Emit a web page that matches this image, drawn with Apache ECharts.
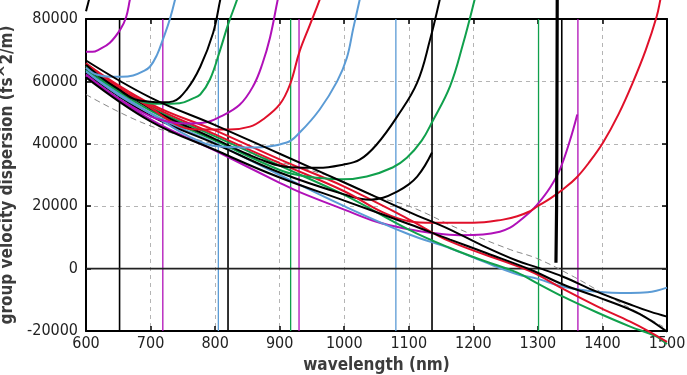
<!DOCTYPE html>
<html>
<head>
<meta charset="utf-8">
<script src="https://cdn.jsdelivr.net/npm/echarts@6/dist/echarts.min.js"></script>
<style>
  html, body { margin: 0; padding: 0; background: #fff; }
  #ec { width: 687px; height: 375px; }
</style>
</head>
<body>
<div id="ec"></div>
<script>
// wavelength (nm) vs GVD (fs^2/m)
const xTicks = [600, 700, 800, 900, 1000, 1100, 1200, 1300, 1400, 1500];
const yTicks = [-20000, 0, 20000, 40000, 60000, 80000];

// vertical marker wavelengths
const markerWl = [652, 719, 805, 820, 917, 930, 1080, 1136, 1301, 1337, 1362];

// curves that turn up (resonances)
const blackCorner = [[600, 82500], [607, 88000]];
const purpleU1 = [[600, 69500], [610, 69500], [620, 70200], [637, 72400], [653, 76600], [662, 80500], [668, 86200], [671, 89000]];
const blueU1 = [[600, 64400], [615, 62300], [637, 61500], [655, 61500], [673, 61900], [688, 63200], [699, 64700], [710, 68500], [719, 73400], [730, 80000], [740, 88000]];
const blackU1 = [[600, 65300], [625, 61000], [650, 57500], [675, 54300], [699, 53500], [720, 53300], [735, 53600], [756, 57400], [777, 64700], [797, 75600], [808, 86200], [811, 89000]];
const greenU1 = [[600, 64900], [650, 57000], [690, 53300], [715, 52800], [745, 53000], [765, 54500], [777, 55800], [792, 60600], [808, 70200], [820, 78200], [834, 86200], [837, 88500]];
const purpleU2 = [[600, 62200], [650, 54600], [700, 48800], [730, 47000], [756, 46500], [784, 46800], [808, 48700], [838, 52500], [859, 58500], [873, 65500], [885, 74000], [897, 86200], [900, 89000]];
const redU1 = [[600, 65800], [650, 58200], [700, 51500], [746, 45600], [777, 44600], [823, 44600], [854, 45500], [874, 47800], [900, 52600], [916, 59000], [931, 69700], [947, 78200], [962, 86200], [965, 88500]];
const blueU2 = [[600, 63200], [650, 55700], [700, 49700], [760, 42300], [808, 39100], [859, 38800], [911, 40400], [931, 43600], [962, 51000], [989, 60000], [1004, 67500], [1014, 77000], [1024, 86200], [1027, 89000]];
const blackU2 = [[600, 64200], [700, 51300], [800, 41500], [870, 35000], [916, 32500], [960, 32300], [998, 33300], [1024, 34900], [1050, 39700], [1082, 48700], [1113, 59600], [1133, 73400], [1148, 86200], [1150, 88500]];
const greenU2 = [[600, 63800], [700, 50600], [800, 41000], [900, 31600], [930, 29900], [962, 29000], [998, 28600], [1035, 29500], [1075, 32400], [1097, 35500], [1120, 41000], [1137, 47300], [1164, 58500], [1184, 72000], [1202, 86200], [1205, 89000]];
const blackU3 = [[600, 62600], [700, 49000], [800, 40000], [900, 30800], [1000, 23800], [1040, 22100], [1060, 22700], [1082, 24700], [1100, 27000], [1113, 29500], [1125, 33000], [1136, 37200]];
const redU3 = [[600, 64700], [700, 52200], [800, 43000], [900, 33800], [1000, 24800], [1060, 18000], [1100, 15200], [1137, 14700], [1200, 14700], [1246, 15700], [1268, 16800], [1287, 18300], [1299, 19900], [1320, 22600], [1340, 25600], [1360, 29200], [1380, 34200], [1401, 40400], [1425, 49500], [1447, 59600], [1467, 70000], [1484, 80800], [1490, 86500], [1492, 88500]];
const purpleU3 = [[600, 61800], [700, 47800], [800, 37800], [900, 27500], [931, 24500], [1000, 18900], [1050, 15000], [1102, 12500], [1133, 11500], [1179, 10700], [1215, 10900], [1241, 11800], [1257, 13100], [1268, 14700], [1287, 18000], [1299, 20500], [1319, 26000], [1334, 31700], [1350, 41300], [1361, 49400]];
const blackSpike = [[1328, 1900], [1329, 20000], [1329.5, 50000], [1330, 90000]];

// curves that run through the whole range
const blackA = [[600, 66700], [700, 54800], [800, 46000], [900, 36800], [1000, 27600], [1100, 18200], [1164, 12500], [1215, 7300], [1268, 2500], [1300, 300], [1339, -2600], [1391, -7400], [1443, -11500], [1474, -13800], [1500, -15400]];
const blackB = [[600, 61300], [700, 47200], [800, 38000], [900, 29200], [1000, 21800], [1100, 14300], [1164, 9300], [1220, 5000], [1288, -300], [1339, -5100], [1391, -9000], [1443, -13100], [1470, -16000], [1500, -20200]];
const redT = [[600, 65600], [700, 52800], [800, 44300], [900, 35000], [1000, 26300], [1100, 15800], [1164, 8700], [1268, 800], [1300, -2000], [1339, -6500], [1391, -12000], [1443, -17000], [1469, -19800], [1500, -23500]];
const greenT = [[600, 64400], [700, 51700], [800, 42400], [900, 33000], [1000, 23600], [1100, 12500], [1164, 6600], [1215, 2600], [1268, -1300], [1300, -4800], [1339, -9000], [1391, -14000], [1443, -18600], [1484, -21800], [1500, -24200]];
const blueT = [[600, 63600], [700, 49800], [800, 40200], [900, 30000], [1000, 20000], [1100, 11000], [1164, 6500], [1215, 2300], [1268, -1800], [1300, -3300], [1339, -5800], [1391, -7400], [1443, -7800], [1470, -7600], [1500, -6100]];
const grayRef = [[600, 55800], [694, 46200], [800, 39800], [931, 32400], [983, 29200], [1050, 23100], [1102, 19900], [1180, 12500], [1257, 6100], [1298, 3300], [1350, -2000], [1400, -7800], [1450, -13500], [1494, -18600]];

const K = "#000000", P = "#b010b8", R = "#e0102a", G = "#10a04c", B = "#5b9bd5";
const markerColors = [K, P, B, K, G, P, B, K, G, K, P];
const font = "'DejaVu Sans Condensed', 'DejaVu Sans', sans-serif";

var myChart = echarts.init(document.getElementById("ec"), null, { renderer: "canvas" });

function curve(data, color, width, extra) {
  return Object.assign({
    type: "line",
    data: data,
    symbol: "none",
    clip: false,
    silent: true,
    smooth: 0.4,
    lineStyle: { color: color, width: width },
    itemStyle: { color: color },
  }, extra || {});
}

const series = [];
// vertical markers
markerWl.forEach((w, i) => {
  series.push(curve([[w, yTicks[0]], [w, yTicks[yTicks.length - 1]]], markerColors[i], markerColors[i] === K ? 1.6 : 1.3, { smooth: false }));
});
// zero line
series.push(curve([[xTicks[0], 0], [xTicks[xTicks.length - 1], 0]], "#222", 1.6, { smooth: false }));
series.push(curve(grayRef, "#888", 1, { lineStyle: { color: "#888", width: 1, type: [6, 4] } }));

[
  [purpleU3, P], [blueT, B], [greenT, G], [redT, R],
  [blackU3, K], [redU3, R], [greenU2, G], [blackU2, K],
  [blueU2, B], [redU1, R], [purpleU2, P], [greenU1, G],
  [blackU1, K], [blueU1, B], [purpleU1, P], [blackCorner, K],
  [blackB, K], [blackA, K],
].forEach(([d, c]) => series.push(curve(d, c, 2)));
series.push(curve(blackSpike, K, 3.2, { smooth: false }));

const tickStyle = { inside: true, length: 5, lineStyle: { color: "#000", width: 1.5 } };
const borderLine = { onZero: false, lineStyle: { color: "#000", width: 2 } };
const dashGrid = { show: true, lineStyle: { color: "#b4b4b4", width: 1, type: [4, 4] } };

myChart.setOption({
  animation: false,
  backgroundColor: "#ffffff",
  grid: { left: 86, right: 20, top: 19, bottom: 44, containLabel: false, outerBoundsMode: "none" },
  xAxis: [
    {
      type: "value", min: 600, max: 1500, interval: 100, position: "bottom",
      name: "wavelength (nm)", nameLocation: "middle", nameGap: 24,
      nameTextStyle: { fontFamily: font, fontWeight: "bold", fontSize: 17, color: "#3c3c3c" },
      axisLine: borderLine,
      axisTick: tickStyle,
      axisLabel: { color: "#222", fontSize: 16, fontFamily: font, margin: 5, formatter: (v) => String(v) },
      splitLine: dashGrid,
    },
    {
      type: "value", min: 600, max: 1500, interval: 100, position: "top",
      axisLine: borderLine,
      axisTick: tickStyle,
      axisLabel: { show: false },
      splitLine: { show: false },
    },
  ],
  yAxis: [
    {
      type: "value", min: -20000, max: 80000, interval: 20000, position: "left",
      name: "group velocity dispersion (fs^2/m)", nameLocation: "middle", nameGap: 61,
      nameTextStyle: { fontFamily: font, fontWeight: "bold", fontSize: 17, color: "#3c3c3c" },
      axisLine: borderLine,
      axisTick: tickStyle,
      axisLabel: { color: "#222", fontSize: 16, fontFamily: font, margin: 8, formatter: (v) => String(v) },
      splitLine: dashGrid,
    },
    {
      type: "value", min: -20000, max: 80000, interval: 20000, position: "right",
      axisLine: borderLine,
      axisTick: tickStyle,
      axisLabel: { show: false },
      splitLine: { show: false },
    },
  ],
  series: series,
});
</script>
</body>
</html>
